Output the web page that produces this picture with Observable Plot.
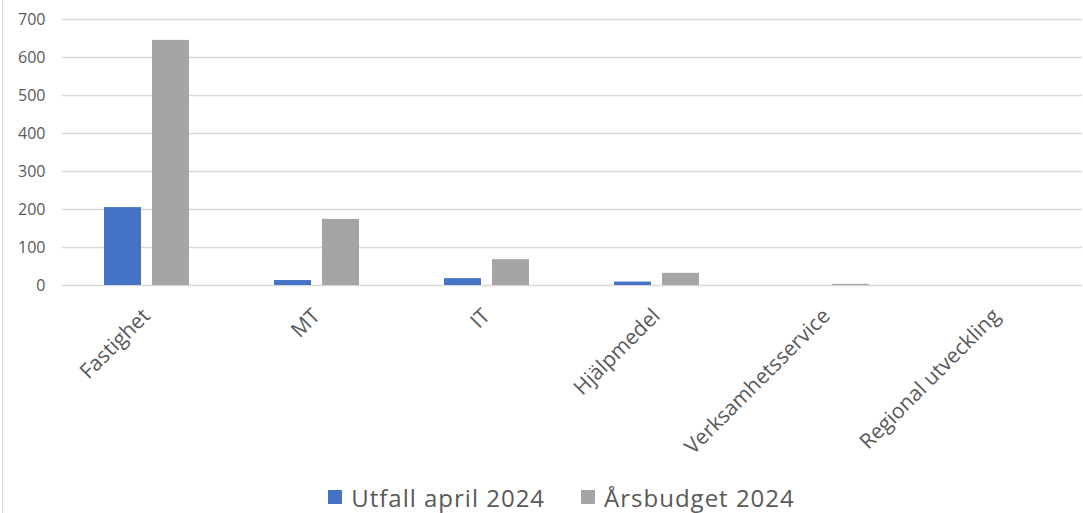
<!DOCTYPE html>
<html>
<head>
<meta charset="utf-8">
<script src="https://cdn.jsdelivr.net/npm/d3@7"></script>
<script src="https://cdn.jsdelivr.net/npm/@observablehq/plot@0.6"></script>
<style>
  html, body { margin: 0; padding: 0; background: #fff; }
  body { width: 1083px; height: 513px; overflow: hidden; position: relative; font-family: "Open Sans", sans-serif; }
  #frame { position: absolute; left: 2px; top: 0; width: 1px; height: 513px; background: #d9d9d9; }
  #legend { height: 32px; padding-top: 11px; display: flex; justify-content: center; align-items: center; font-size: 24px; letter-spacing: 1px; color: #595959; padding-left: 40px; }
  .item { display: flex; align-items: center; margin: 0 18px; }
  .sw { width: 14px; height: 14px; margin-right: 9px; display: inline-block; }
</style>
</head>
<body>
<div id="frame"></div>
<div id="chart"></div>
<div id="legend"></div>
<script>
const categories = ["Fastighet", "MT", "IT", "Hjälpmedel", "Verksamhetsservice", "Regional utveckling"];
const seriesNames = ["Utfall april 2024", "Årsbudget 2024"];
const utfall = [205, 13, 18, 9, 0, 0];
const budget = [645, 174, 68, 32, 3, 0];
const colors = ["#4472C4", "#A5A5A5"];
const yTicks = [0, 100, 200, 300, 400, 500, 600, 700];

const data = [];
categories.forEach((c, i) => {
  data.push({cat: c, series: seriesNames[0], value: utfall[i]});
  data.push({cat: c, series: seriesNames[1], value: budget[i]});
});

const chart = Plot.plot({
  width: 1083,
  height: 470,
  marginLeft: 60,
  marginRight: 0,
  marginTop: 19,
  marginBottom: 185,
  style: {fontFamily: "'Open Sans', sans-serif", color: "#595959", background: "transparent"},
  fx: {domain: categories, padding: 0},
  x: {domain: seriesNames, paddingInner: 0.224, paddingOuter: 0.852, axis: null},
  y: {domain: [0, 700], axis: null},
  color: {domain: seriesNames, range: colors},
  marks: [
    Plot.gridY(yTicks, {stroke: "#d9d9d9", strokeOpacity: 1, strokeWidth: 1.3}),
    Plot.axisY(yTicks, {anchor: "left", tickSize: 0, tickPadding: 17, fontSize: 16, fill: "#595959", label: null, facetAnchor: "left"}),
    Plot.barY(data, {fx: "cat", x: "series", y: "value", fill: "series"}),
    Plot.axisFx({anchor: "bottom", tickRotate: -45, tickSize: 0, tickPadding: 27, dx: -1, fontSize: 21, fill: "#595959", label: null})
  ]
});
document.getElementById("chart").appendChild(chart);

const legend = document.getElementById("legend");
seriesNames.forEach((s, i) => {
  const item = document.createElement("div");
  item.className = "item";
  const sw = document.createElement("span");
  sw.className = "sw";
  sw.style.background = colors[i];
  item.appendChild(sw);
  item.appendChild(document.createTextNode(s));
  legend.appendChild(item);
});
</script>
</body>
</html>
